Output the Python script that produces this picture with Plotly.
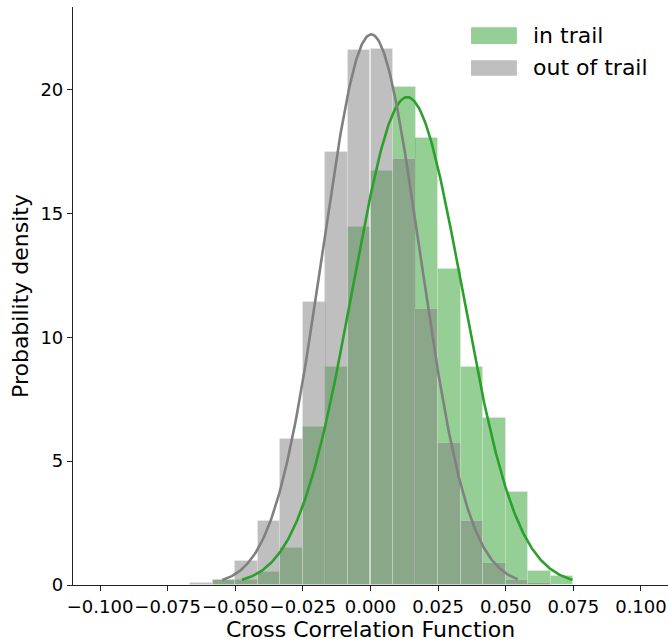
import numpy as np
import plotly.graph_objects as go

# ---- data ----
bin_width = 1 / 120
bin_centers = [-0.0625, -0.0542, -0.0458, -0.0375, -0.0292, -0.0208, -0.0125, -0.0042,
               0.0042, 0.0125, 0.0208, 0.0292, 0.0375, 0.0458, 0.0542, 0.0625, 0.0708]
in_trail_density = [0.0, 0.2, 0.2, 0.54, 1.48, 6.39, 8.8, 14.45,
                    16.7, 20.1, 18.05, 12.77, 8.8, 6.76, 3.74, 0.58, 0.36]
out_trail_density = [0.07, 0.2, 0.95, 2.6, 5.9, 11.42, 17.47, 21.6,
                     21.63, 17.2, 11.16, 5.75, 2.6, 0.87, 0.22, 0.07, 0.0]

# fitted normal parameters (mean, std) and fitted curve extents
in_trail_fit = dict(mu=0.0136, sigma=0.02026, xmin=-0.0475, xmax=0.0747)
out_trail_fit = dict(mu=0.00026, sigma=0.01795, xmin=-0.0548, xmax=0.0544)

x_ticks = [-0.100, -0.075, -0.050, -0.025, 0.000, 0.025, 0.050, 0.075, 0.100]
x_tick_labels = [("\u2212" if v < 0 else "") + f"{abs(v):.3f}" for v in x_ticks]
y_ticks = [0, 5, 10, 15, 20]

GREEN = "#2ca02c"
GRAY = "#808080"


def normal_pdf(fit, n=300):
    x = np.linspace(fit["xmin"], fit["xmax"], n)
    y = np.exp(-0.5 * ((x - fit["mu"]) / fit["sigma"]) ** 2) / (fit["sigma"] * np.sqrt(2 * np.pi))
    return x, y


fig = go.Figure()
fig.add_trace(go.Bar(x=bin_centers, y=in_trail_density, width=bin_width,
                     marker=dict(color="rgba(44,160,44,0.5)",
                                 line=dict(color="rgba(255,255,255,0.2)", width=1)),
                     name="in trail", showlegend=False))
fig.add_trace(go.Bar(x=bin_centers, y=out_trail_density, width=bin_width,
                     marker=dict(color="rgba(128,128,128,0.5)",
                                 line=dict(color="rgba(255,255,255,0.2)", width=1)),
                     name="out of trail", showlegend=False))
gx, gy = normal_pdf(in_trail_fit)
fig.add_trace(go.Scatter(x=gx, y=gy, mode="lines", line=dict(color=GREEN, width=2.6),
                         showlegend=False, hoverinfo="skip"))
ox, oy = normal_pdf(out_trail_fit)
fig.add_trace(go.Scatter(x=ox, y=oy, mode="lines", line=dict(color=GRAY, width=2.6),
                         showlegend=False, hoverinfo="skip"))

# manual legend (matplotlib-like wide patches)
legend_items = [("in trail", "rgba(44,160,44,0.5)", 0.965, 0.936),
                ("out of trail", "rgba(128,128,128,0.5)", 0.908, 0.881)]
for label, col, y1, y0 in legend_items:
    fig.add_shape(type="rect", xref="paper", yref="paper", x0=0.669, x1=0.746,
                  y0=y0, y1=y1, fillcolor=col, line=dict(width=0), layer="above")
    fig.add_annotation(xref="paper", yref="paper", x=0.770, y=(y0 + y1) / 2,
                       text=label, showarrow=False, xanchor="left", yanchor="middle",
                       font=dict(size=22, color="black"))

fig.update_layout(
    width=668, height=644,
    margin=dict(l=73, r=0, t=7, b=59, autoexpand=False),
    barmode="overlay", bargap=0,
    plot_bgcolor="white", paper_bgcolor="white",
    font=dict(family="DejaVu Sans", color="black", size=18),
)
fig.update_xaxes(range=[-0.11, 0.11], tickvals=x_ticks, ticktext=x_tick_labels,
                 tickangle=0, automargin=False,
                 showgrid=False, zeroline=False, showline=True, linecolor="#222",
                 linewidth=1.2, ticks="outside", ticklen=5, tickwidth=1.2, tickcolor="#222",
                 tickfont=dict(size=18),
                 title=dict(text="Cross Correlation Function", font=dict(size=22), standoff=3))
fig.update_yaxes(range=[0, 23.33], tickvals=y_ticks, showgrid=False, zeroline=False,
                 automargin=False,
                 showline=True, linecolor="#222", linewidth=1.2, ticks="outside",
                 ticklen=5, tickwidth=1.2, tickcolor="#222", tickfont=dict(size=18),
                 title=dict(text="Probability density", font=dict(size=22), standoff=5))

fig.write_html("out.html")
